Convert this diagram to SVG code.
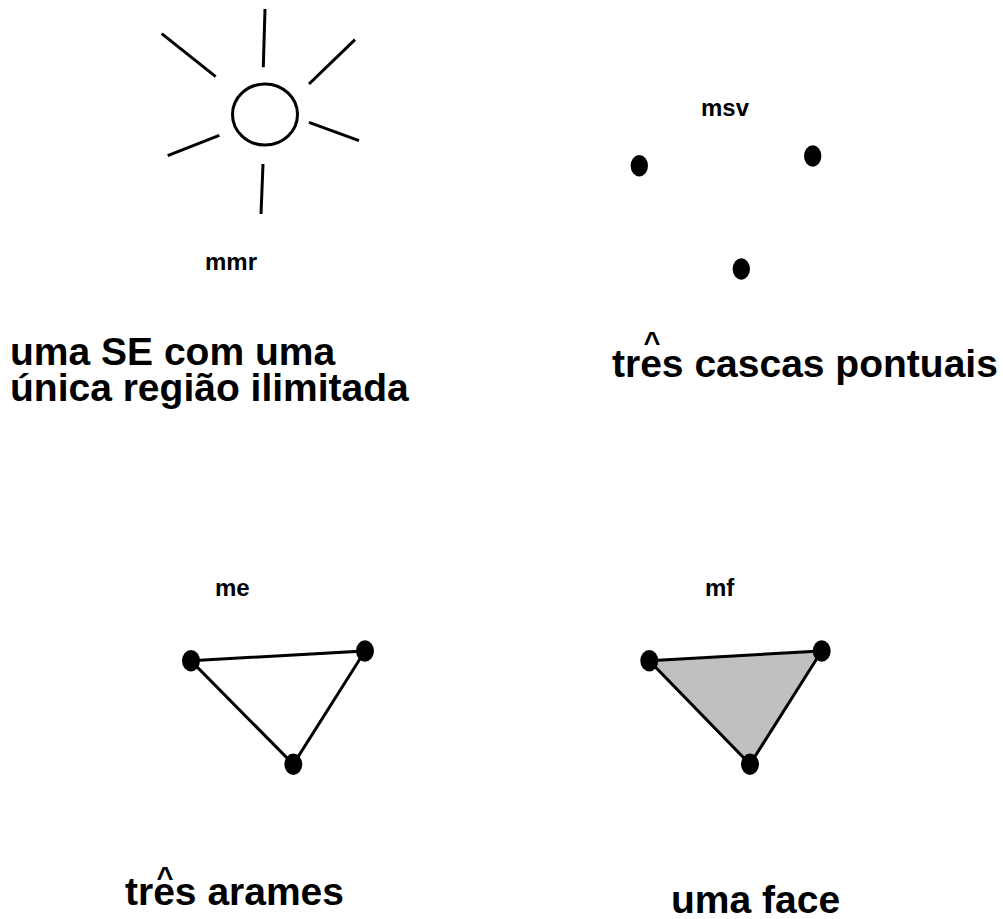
<svg xmlns="http://www.w3.org/2000/svg" width="1003" height="919" viewBox="0 0 1003 919">
<style>
.ln{stroke:#000;stroke-width:3;fill:none;stroke-linecap:butt}
.dot{fill:#000}
.t{font-family:"Liberation Sans",Arial,sans-serif;font-weight:bold;fill:#000}
.big{font-size:39px}
.lab{font-size:24px}
.car{font-size:29px}
</style>
<rect width="1003" height="919" fill="#fff"/>
<g id="mmr">
<ellipse cx="265" cy="114.5" rx="32.5" ry="30.5" class="ln"/>
<line x1="265" y1="9" x2="263.3" y2="67.3" class="ln"/>
<line x1="161.7" y1="33.7" x2="215.7" y2="76.7" class="ln"/>
<line x1="355" y1="39.7" x2="309" y2="84" class="ln"/>
<line x1="309" y1="122.3" x2="359" y2="140.7" class="ln"/>
<line x1="219.3" y1="135.3" x2="167.7" y2="155.7" class="ln"/>
<line x1="263" y1="164" x2="261" y2="214" class="ln"/>
<text x="205" y="270" class="t lab">mmr</text>
<text class="t big"><tspan x="10" y="365">uma SE com uma</tspan><tspan x="10" y="401">única região ilimitada</tspan></text>
</g>
<g id="msv">
<text x="701" y="116" class="t lab">msv</text>
<ellipse cx="639.3" cy="165.7" rx="8.7" ry="10.7" class="dot"/>
<ellipse cx="812.7" cy="156" rx="8.7" ry="10.7" class="dot"/>
<ellipse cx="741.3" cy="269" rx="8.7" ry="10.7" class="dot"/>
<text x="612" y="377" class="t big">tres cascas pontuais</text>
<text x="652" y="352" class="t car" text-anchor="middle">^</text>
</g>
<g id="connectors">
<polygon points="191,660.7 365,651 293.3,764.3" class="ln"/>
<polygon points="649.3,660.7 821.7,651 750,764.3" fill="#c0c0c0" stroke="#000" stroke-width="3"/>
</g>
<g id="me">
<text x="215" y="596" class="t lab">me</text>
<ellipse cx="191" cy="660.7" rx="9" ry="10.7" class="dot"/>
<ellipse cx="365" cy="651" rx="9" ry="10.7" class="dot"/>
<ellipse cx="293.3" cy="764.3" rx="9" ry="10.7" class="dot"/>
<text x="125" y="905" class="t big">tres arames</text>
<text x="165" y="887" class="t car" text-anchor="middle">^</text>
</g>
<g id="mf">
<text x="705" y="596" class="t lab">mf</text>
<ellipse cx="649.3" cy="660.7" rx="9" ry="10.7" class="dot"/>
<ellipse cx="821.7" cy="651" rx="9" ry="10.7" class="dot"/>
<ellipse cx="750" cy="764.3" rx="9" ry="10.7" class="dot"/>
<text x="671" y="913" class="t big">uma face</text>
</g>
</svg>
